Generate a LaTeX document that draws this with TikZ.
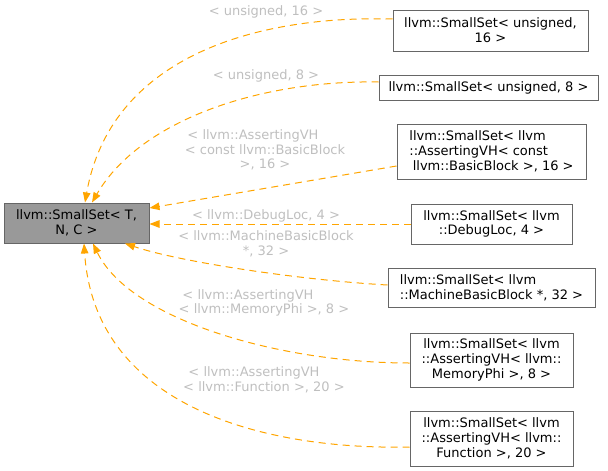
\documentclass[tikz,border=0pt]{standalone}
\usepackage{fontspec}
\setmainfont{DejaVu Sans}
\usetikzlibrary{arrows.meta}
\definecolor{edgeor}{HTML}{FFA500}
\definecolor{lblgray}{HTML}{BFBFBF}
\definecolor{boxline}{HTML}{666666}
\definecolor{basefill}{HTML}{999999}
\begin{document}
\begin{tikzpicture}[x=1pt,y=-1pt,
  every node/.style={font=\fontsize{13}{14.7}\selectfont},
  cls/.style={draw=boxline, line width=1pt, fill=white, inner sep=0pt, align=center},
  clsleft/.style={cls, align=left},
  basecls/.style={cls, fill=basefill},
  lbl/.style={text=lblgray, inner sep=0pt, align=center},
  edge/.style={draw=edgeor, line width=1pt, dash pattern=on 7pt off 5pt,
    -{Triangle[length=10pt,width=7.5pt,fill=edgeor]}}]
\useasboundingbox (0,0) rectangle (608,471);

% base class
\node[basecls, minimum width=145pt, minimum height=40pt] (base) at (76.5,223) {llvm::SmallSet< T,\\N, C >};

% derived instantiations
\node[cls, minimum width=195pt, minimum height=41pt] (n1) at (490.5,30.5) {llvm::SmallSet< unsigned,\\16 >};
\node[cls, minimum width=219pt, minimum height=25pt] (n2) at (488.5,87.5) {llvm::SmallSet< unsigned, 8 >};
\node[clsleft, minimum width=189pt, minimum height=55pt] (n3) at (491.5,151.5) {llvm::SmallSet< llvm\\::AssertingVH< const\\\hspace*{3.4pt}llvm::BasicBlock >, 16 >};
\node[cls, minimum width=161pt, minimum height=40pt] (n4) at (491.5,224) {llvm::SmallSet< llvm\\::DebugLoc, 4 >};
\node[clsleft, minimum width=207pt, minimum height=39pt] (n5) at (491.5,287.5) {llvm::SmallSet< llvm\\::MachineBasicBlock *, 32 >};
\node[cls, minimum width=163pt, minimum height=54pt] (n6) at (491.5,360) {llvm::SmallSet< llvm\\::AssertingVH< llvm::\\MemoryPhi >, 8 >};
\node[cls, minimum width=163pt, minimum height=55pt] (n7) at (491.5,438.5) {llvm::SmallSet< llvm\\::AssertingVH< llvm::\\Function >, 20 >};

% edge labels
\node[lbl] (l1) at (266,12) {< unsigned, 16 >};
\node[lbl] (l2) at (266,76) {< unsigned, 8 >};
\node[lbl] (l3) at (265,150) {< llvm::AssertingVH\hspace*{24pt}\\< const llvm::BasicBlock\\>, 16 >};
\node[lbl] (l4) at (266,216) {< llvm::DebugLoc, 4 >};
\node[lbl] (l5) at (266,243.5) {< llvm::MachineBasicBlock\\*, 32 >};
\node[lbl] (l6) at (264,303) {< llvm::AssertingVH\hspace*{32pt}\\< llvm::MemoryPhi >, 8 >};
\node[lbl] (l7) at (264,379.5) {< llvm::AssertingVH\hspace*{20pt}\\< llvm::Function >, 20 >};

% inheritance edges
\draw[edge] ([yshift=11.5pt]n1.west) .. controls (250,15) and (110,60) .. ([xshift=8.5pt]base.north);
\draw[edge] ([yshift=5.5pt]n2.west) .. controls (260,80) and (140,120) .. ([xshift=15.5pt]base.north);
\draw[edge] ([yshift=-14.5pt]n3.west) -- ([yshift=15pt]base.east);
\draw[edge] (n4.west) -- ([yshift=-1pt]base.east);
\draw[edge] ([yshift=2.5pt]n5.west) .. controls (300,280) and (180,262) .. ([xshift=48.5pt]base.south);
\draw[edge] ([yshift=-3pt]n6.west) .. controls (280,363) and (130,320) .. ([xshift=16.5pt]base.south);
\draw[edge] ([yshift=-8.5pt]n7.west) .. controls (270,450) and (95,410) .. ([xshift=7.5pt]base.south);
\end{tikzpicture}
\end{document}
